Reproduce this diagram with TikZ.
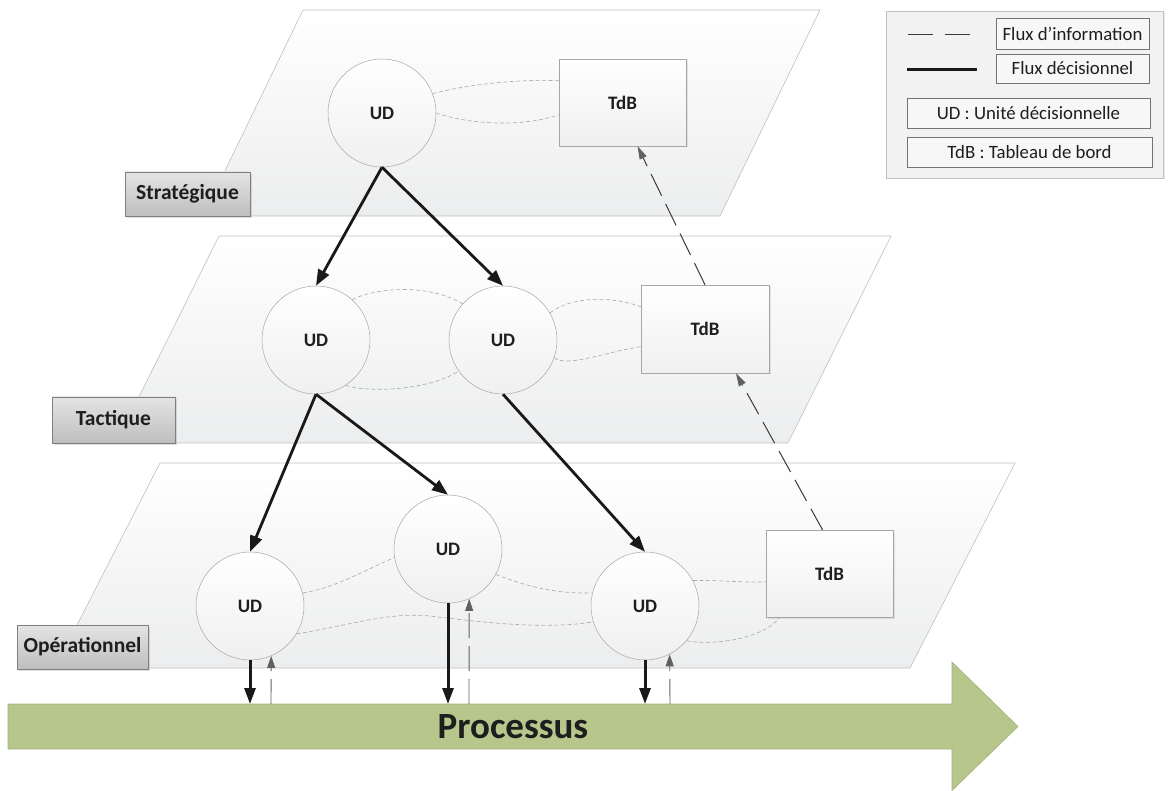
\documentclass[tikz,border=0pt]{standalone}
\usepackage{fontspec}
\setmainfont{Carlito}
\usetikzlibrary{arrows.meta,calc,shadows}

\definecolor{layerline}{HTML}{BFBFBF}
\definecolor{layerbot}{HTML}{ECEDEE}
\definecolor{nodeline}{HTML}{A6A6A6}
\definecolor{labtop}{HTML}{E4E4E4}
\definecolor{labbot}{HTML}{BEBEBE}
\definecolor{labline}{HTML}{7F7F7F}
\definecolor{procgreen}{HTML}{B7C68B}
\definecolor{procline}{HTML}{A3B07C}
\definecolor{infogray}{HTML}{A8A8A8}
\definecolor{darkinfo}{HTML}{3A3A3A}
\definecolor{headgray}{HTML}{606060}
\definecolor{legendfill}{HTML}{F2F2F2}
\definecolor{txt}{HTML}{1E1E1E}

\begin{document}
\begin{tikzpicture}[x=1pt,y=-1pt,
  layer/.style={draw=layerline, line width=0.6pt, top color=white, bottom color=layerbot},
  ud/.style={circle, draw=nodeline, line width=0.5pt, top color=white, bottom color=black!6,
    minimum size=108pt, inner sep=0pt, text=txt, font=\bfseries\fontsize{19}{21}\selectfont},
  tdb/.style={rectangle, draw=nodeline, line width=0.5pt, top color=white, bottom color=black!6,
    minimum width=127pt, minimum height=87pt, inner sep=0pt, text=txt,
    font=\bfseries\fontsize{19}{21}\selectfont,
    drop shadow={opacity=0.18, shadow xshift=1.5pt, shadow yshift=-1.5pt}},
  levellab/.style={rectangle, draw=labline, line width=0.8pt, top color=labtop, bottom color=labbot,
    minimum height=44pt, inner sep=0pt, text=txt, font=\bfseries\fontsize{21.5}{23}\selectfont,
    drop shadow={opacity=0.25, shadow xshift=2pt, shadow yshift=-2pt}},
  legbox/.style={rectangle, draw=black!55, line width=0.6pt, fill=white!97!black, inner sep=0pt,
    text=txt, font=\fontsize{18.8}{20}\selectfont},
  decision/.style={line width=2.8pt, draw=black!90, -{Triangle[length=16pt,width=12pt]}},
  outflow/.style={line width=3pt, draw=black!90, -{Triangle[length=16pt,width=11pt]}},
  info/.style={line width=1pt, draw=darkinfo, dash pattern=on 24pt off 9pt,
    -{Triangle[length=13pt,width=7.5pt,color=headgray]}},
  infoup/.style={line width=0.9pt, draw=darkinfo!80, dash pattern=on 25pt off 8pt,
    -{Triangle[length=12pt,width=8pt,color=headgray]}},
  link/.style={line width=0.6pt, draw=infogray, dash pattern=on 4pt off 2.5pt}
]
\useasboundingbox (0,0) rectangle (1168,791);

% ---------- layers ----------
\path[layer] (303,10) -- (820,10) -- (720,216) -- (203,216) -- cycle;
\path[layer] (219,236) -- (891,236) -- (788,443) -- (116,443) -- cycle;
\path[layer] (160,463) -- (1015,463) -- (910,668) -- (55,668) -- cycle;

% ---------- process arrow ----------
\path[fill=procgreen, draw=procline, line width=0.6pt]
  (8,704) -- (952,704) -- (952,662) -- (1018,726.5) -- (952,790.5) -- (952,749) -- (8,749) -- cycle;
\node[font=\bfseries\fontsize{37}{40}\selectfont, text=txt, inner sep=0pt] (proc) at (513,727) {Processus};
\coordinate (p1) at (250,704);
\coordinate (q1) at (271,704);
\coordinate (p2) at (448,704);
\coordinate (q2) at (469,704);
\coordinate (p3) at (645,704);
\coordinate (q3) at (670,704);

% ---------- level labels ----------
\node[levellab, minimum width=125pt] (labS) at (187.5,194) {Stratégique};
\node[levellab, minimum width=123pt, minimum height=46pt] (labT) at (113.5,420) {Tactique};
\node[levellab, minimum width=131pt] (labO) at (82.5,647) {Opérationnel};

% ---------- nodes ----------
\node[ud] (udS) at (382,113) {UD};
\node[tdb] (tdbS) at (622.5,102.5) {TdB};

\node[ud] (udT1) at (316,340) {UD};
\node[ud] (udT2) at (503,340) {UD};
\node[tdb, minimum width=128pt, minimum height=88pt] (tdbT) at (705,329) {TdB};

\node[ud] (udO1) at (250,606) {UD};
\node[ud] (udO2) at (448,549) {UD};
\node[ud] (udO3) at (645,606) {UD};
\node[tdb] (tdbO) at (829.5,573.5) {TdB};

% ---------- information links inside layers ----------
\draw[link] (udS.21) .. controls (470,84) and (520,79) .. ([yshift=-22pt]tdbS.north west);
\draw[link] (udS.0) .. controls (470,125) and (525,127) .. ([yshift=-56pt]tdbS.north west);

\draw[link] (udT1.48) .. controls (372,289) and (425,282) .. (udT2.138);
\draw[link] (udT1.-57) .. controls (370,393) and (430,390) .. (udT2.-145);
\draw[link] (udT2.30) .. controls (572,296) and (612,296) .. ([yshift=-22pt]tdbT.north west);
\draw[link] (udT2.-19) .. controls (566,368) and (605,352) .. ([yshift=-62pt]tdbT.north west);

\draw[link] (udO1.14) .. controls (335,588) and (365,570) .. (udO2.189);
\draw[link] (udO1.-31) .. controls (355,624) and (390,612) .. (430,616)
                        .. controls (480,622) and (545,630) .. (udO3.197);
\draw[link] (udO2.-28) .. controls (530,588) and (560,594) .. (udO3.166);
\draw[link] (udO3.28) .. controls (720,580) and (745,583) .. ([yshift=-52pt]tdbO.north west);
\draw[link] (udO3.-40) .. controls (715,646) and (765,638) .. ([xshift=14pt]tdbO.south west);

% ---------- decision flows ----------
\draw[decision] (udS.south) -- (udT1.north);
\draw[decision] (udS.south) -- (udT2.north);
\draw[decision] (udT1.south) -- (udO1.north);
\draw[decision] (udT1.south) -- (udO2.north);
\draw[decision] (udT2.south) -- (udO3.north);

% ---------- information flows ----------
\draw[info] ([xshift=-7pt]tdbO.north) -- ([xshift=31pt]tdbT.south);
\draw[info] (tdbT.north) -- ([xshift=15pt]tdbS.south);

% ---------- exchanges with the process ----------
\draw[outflow] (udO1.south) -- (p1);
\draw[outflow] (udO2.south) -- (p2);
\draw[outflow] (udO3.south) -- (p3);
\draw[infoup] (q1) -- (udO1.-67.5);
\draw[infoup] (q2) -- (udO2.-67.5);
\draw[infoup] (q3) -- (udO3.-63);

% ---------- legend ----------
\node[rectangle, draw=layerline, line width=0.6pt, fill=legendfill, minimum width=277pt, minimum height=167pt,
  inner sep=0pt, drop shadow={opacity=0.15, shadow xshift=1.5pt, shadow yshift=-1.5pt}] (legend) at (1024.5,94.5) {};
\node[legbox, minimum width=153pt, minimum height=31pt] (legInfo) at (1072.5,33.5) {Flux d’information};
\node[legbox, minimum width=153pt, minimum height=29pt] (legDec) at (1072.5,68.5) {Flux décisionnel};
\node[legbox, minimum width=243pt, minimum height=30pt] (legUD) at (1028.5,113) {UD : Unité décisionnelle};
\node[legbox, minimum width=245pt, minimum height=30pt] (legTdB) at (1029.5,152) {TdB : Tableau de bord};
\coordinate (ls1) at (908,35);
\coordinate (le1) at (970,35);
\coordinate (ls2) at (907,70);
\coordinate (le2) at (977,70);
\draw[line width=1pt, draw=darkinfo, dash pattern=on 25pt off 12pt] (ls1) -- (le1);
\draw[line width=3pt, draw=black!90] (ls2) -- (le2);
\end{tikzpicture}
\end{document}
